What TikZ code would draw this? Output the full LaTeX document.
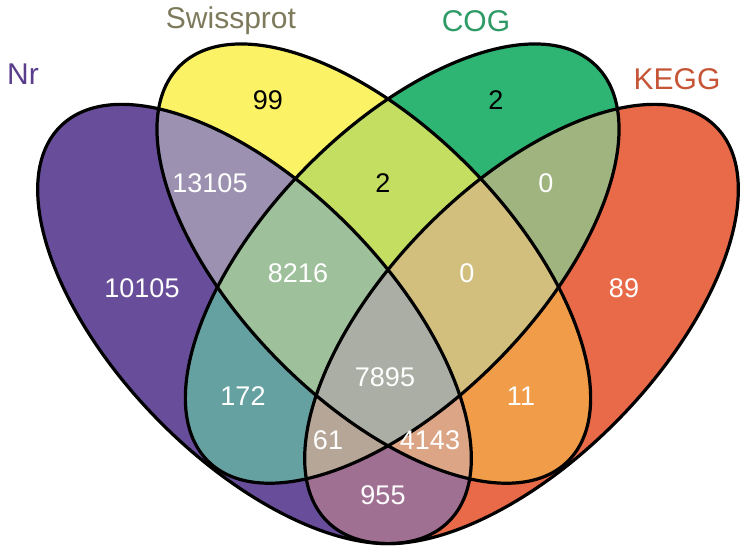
\documentclass[tikz,border=0pt]{standalone}
\usepackage{fontspec}
\setmainfont{Liberation Sans}
\usepackage{tikz}
\definecolor{nrpurple}{HTML}{684E9A}
\definecolor{swyellow}{HTML}{FBF266}
\definecolor{coggreen}{HTML}{2EB473}
\definecolor{keggred}{HTML}{E86A48}
\definecolor{nrsw}{HTML}{9C91B0}
\definecolor{swcog}{HTML}{C4DE62}
\definecolor{cogkegg}{HTML}{A0B47F}
\definecolor{nrcog}{HTML}{66A1A2}
\definecolor{swkegg}{HTML}{F19C48}
\definecolor{nrkegg}{HTML}{A07093}
\definecolor{nrswcog}{HTML}{9EC09B}
\definecolor{swcogkegg}{HTML}{D2BF7D}
\definecolor{nrcogkegg}{HTML}{B6A697}
\definecolor{nrswkegg}{HTML}{DCA686}
\definecolor{allfour}{HTML}{ABAEA4}
\definecolor{nrtext}{HTML}{5A3E8B}
\definecolor{swtext}{HTML}{7D7A5C}
\definecolor{cogtext}{HTML}{2E9A66}
\definecolor{keggtext}{HTML}{C65538}
\newcommand{\vennshape}{(0,0) ellipse [x radius=277, y radius=136]}

\begin{document}
\begin{tikzpicture}[
    x=1pt, y=1pt,
    nrset/.style={shift={(254.5,228)}, rotate=-45.6},
    swset/.style={shift={(373.8,288.4)}, rotate=-45.6},
    cogset/.style={shift={(402.2,288.4)}, rotate=45.6},
    keggset/.style={shift={(521.5,228)}, rotate=45.6},
    outline/.style={draw=black, line width=3.2pt},
    count/.style={font=\fontsize{27}{27}\selectfont, text=white},
    setname/.style={font=\fontsize{30}{30}\selectfont}
]
\useasboundingbox (0,0) rectangle (752,552);

% --- single sets ---
\fill[nrpurple, nrset] \vennshape;
\fill[keggred, keggset] \vennshape;
\fill[swyellow, swset] \vennshape;
\fill[coggreen, cogset] \vennshape;

% --- two sets ---
\begin{scope} \clip[nrset] \vennshape; \fill[nrsw, swset] \vennshape; \end{scope}
\begin{scope} \clip[nrset] \vennshape; \fill[nrcog, cogset] \vennshape; \end{scope}
\begin{scope} \clip[nrset] \vennshape; \fill[nrkegg, keggset] \vennshape; \end{scope}
\begin{scope} \clip[swset] \vennshape; \fill[swcog, cogset] \vennshape; \end{scope}
\begin{scope} \clip[swset] \vennshape; \fill[swkegg, keggset] \vennshape; \end{scope}
\begin{scope} \clip[cogset] \vennshape; \fill[cogkegg, keggset] \vennshape; \end{scope}

% --- three sets ---
\begin{scope} \clip[nrset] \vennshape; \clip[swset] \vennshape;
  \fill[nrswcog, cogset] \vennshape; \end{scope}
\begin{scope} \clip[nrset] \vennshape; \clip[swset] \vennshape;
  \fill[nrswkegg, keggset] \vennshape; \end{scope}
\begin{scope} \clip[nrset] \vennshape; \clip[cogset] \vennshape;
  \fill[nrcogkegg, keggset] \vennshape; \end{scope}
\begin{scope} \clip[swset] \vennshape; \clip[cogset] \vennshape;
  \fill[swcogkegg, keggset] \vennshape; \end{scope}

% --- all four ---
\begin{scope} \clip[nrset] \vennshape; \clip[swset] \vennshape; \clip[cogset] \vennshape;
  \fill[allfour, keggset] \vennshape; \end{scope}

% --- outlines ---
\draw[outline, nrset] \vennshape;
\draw[outline, swset] \vennshape;
\draw[outline, cogset] \vennshape;
\draw[outline, keggset] \vennshape;

% --- counts ---
\node[count, text=black] (sw99)    at (268,452) {99};
\node[count, text=black] (cog2)    at (496,452) {2};
\node[count]             (ns13105) at (210,369) {13105};
\node[count, text=black] (sc2)     at (383,369) {2};
\node[count]             (ck0)     at (546,369) {0};
\node[count]             (nr10105) at (142,264) {10105};
\node[count]             (nsc8216) at (298,279) {8216};
\node[count]             (sck0)    at (467,279) {0};
\node[count]             (kegg89)  at (624,264) {89};
\node[count]             (all7895) at (385,175) {7895};
\node[count]             (nc172)   at (243,156) {172};
\node[count]             (sk11)    at (521,156) {11};
\node[count]             (nck61)   at (328,112) {61};
\node[count]             (nsk4143) at (430,112) {4143};
\node[count]             (nk955)   at (383,57)  {955};

% --- set names ---
\node[setname, text=nrtext]   (nrname)   at (23,478)  {Nr};
\node[setname, text=swtext]   (swname)   at (231,531) {Swissprot};
\node[setname, text=cogtext]  (cogname)  at (476,531) {COG};
\node[setname, text=keggtext] (keggname) at (677,473) {KEGG};

\end{tikzpicture}
\end{document}
